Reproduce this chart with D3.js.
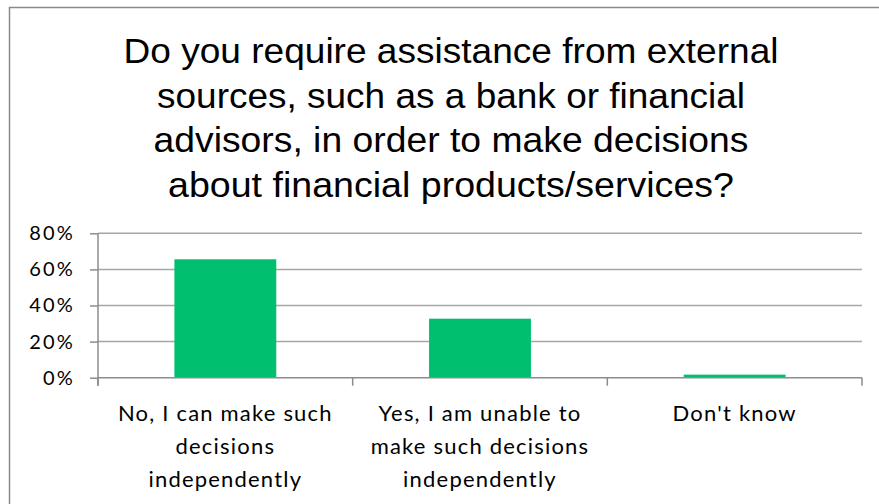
<!DOCTYPE html>
<html>
<head>
<meta charset="utf-8">
<script src="https://cdn.jsdelivr.net/npm/d3@7"></script>
<style>
  html, body { margin: 0; padding: 0; background: #fff; }
  svg { display: block; }
</style>
</head>
<body>
<svg id="chart" width="879" height="504"></svg>
<script>
// Survey answers and their shares (percent)
const categories = [
  ["No, I can make such", "decisions", "independently"],
  ["Yes, I am unable to", "make such decisions", "independently"],
  ["Don't know"]
];
const shares = [65.6, 32.7, 1.7];
const yTicks = [0, 20, 40, 60, 80];
const titleLines = [
  "Do you require assistance from external",
  "sources, such as a bank or financial",
  "advisors, in order to make decisions",
  "about financial products/services?"
];
// set widths of the title lines
const titleWidths = [655, 588, 595, 566];

const svg = d3.select("#chart");
const W = 879, H = 504;
const plot = { left: 98, right: 862, top: 233.3, bottom: 377.7 };

// outer frame of the chart area
svg.append("rect")
  .attr("x", 9.5).attr("y", 7.5)
  .attr("width", W + 20).attr("height", H + 20)
  .attr("fill", "#fff")
  .attr("stroke", "#8a8a8a").attr("stroke-width", 1.5);

// title
const title = svg.append("text")
  .attr("text-anchor", "middle")
  .attr("font-family", "'Liberation Sans', Arial, sans-serif")
  .attr("font-size", 35)
  .attr("fill", "#000");
titleLines.forEach((t, i) => {
  title.append("tspan")
    .attr("x", 451)
    .attr("y", 63.3 + i * 44.5)
    .attr("textLength", titleWidths[i])
    .attr("lengthAdjust", "spacingAndGlyphs")
    .text(t);
});

const x = d3.scaleBand()
  .domain(d3.range(categories.length))
  .range([plot.left, plot.right])
  .paddingInner(0.6)
  .paddingOuter(0.3);

const y = d3.scaleLinear()
  .domain([0, 80])
  .range([plot.bottom, plot.top]);

// horizontal gridlines
svg.append("g")
  .selectAll("line")
  .data(yTicks.filter(d => d > 0))
  .join("line")
  .attr("x1", plot.left).attr("x2", plot.right)
  .attr("y1", d => y(d)).attr("y2", d => y(d))
  .attr("stroke", "#a6a6a6").attr("stroke-width", 1.5);

// y axis
const yAxis = svg.append("g")
  .attr("transform", `translate(${plot.left},0)`)
  .call(d3.axisLeft(y).tickValues(yTicks).tickSize(8).tickPadding(15)
    .tickFormat(d => d + "%"));
yAxis.select(".domain").attr("stroke", "#8c8c8c").attr("stroke-width", 1.5)
  .attr("d", `M0,${plot.top}V${plot.bottom + 8}`);
yAxis.selectAll(".tick line").attr("stroke", "#8c8c8c").attr("stroke-width", 1.5);
yAxis.selectAll(".tick text")
  .attr("font-family", "Lato, 'Open Sans', sans-serif")
  .attr("font-size", 20)
  .attr("letter-spacing", 2.2)
  .attr("fill", "#000");

// bars
svg.append("g")
  .selectAll("rect")
  .data(shares)
  .join("rect")
  .attr("x", (d, i) => x(i))
  .attr("width", x.bandwidth())
  .attr("y", d => y(d))
  .attr("height", d => y(0) - y(d))
  .attr("fill", "#00bf6f");

// x axis with category separators
const bounds = d3.range(categories.length + 1).map(i => plot.left + i * (plot.right - plot.left) / categories.length);
const xAxis = svg.append("g");
xAxis.append("line")
  .attr("x1", plot.left).attr("x2", plot.right)
  .attr("y1", y(0)).attr("y2", y(0))
  .attr("stroke", "#8c8c8c").attr("stroke-width", 1.5);
xAxis.selectAll("line.sep")
  .data(bounds)
  .join("line")
  .attr("class", "sep")
  .attr("x1", d => d).attr("x2", d => d)
  .attr("y1", y(0)).attr("y2", y(0) + 8)
  .attr("stroke", "#8c8c8c").attr("stroke-width", 1.5);

// category labels
const labels = svg.append("g")
  .attr("font-family", "Lato, 'Open Sans', sans-serif")
  .attr("font-size", 22)
  .attr("letter-spacing", 1.2)
  .attr("text-anchor", "middle")
  .attr("fill", "#000");
categories.forEach((lines, i) => {
  const t = labels.append("text");
  lines.forEach((s, j) => {
    t.append("tspan")
      .attr("x", x(i) + x.bandwidth() / 2)
      .attr("y", 421 + j * 33)
      .text(s);
  });
});
</script>
</body>
</html>
